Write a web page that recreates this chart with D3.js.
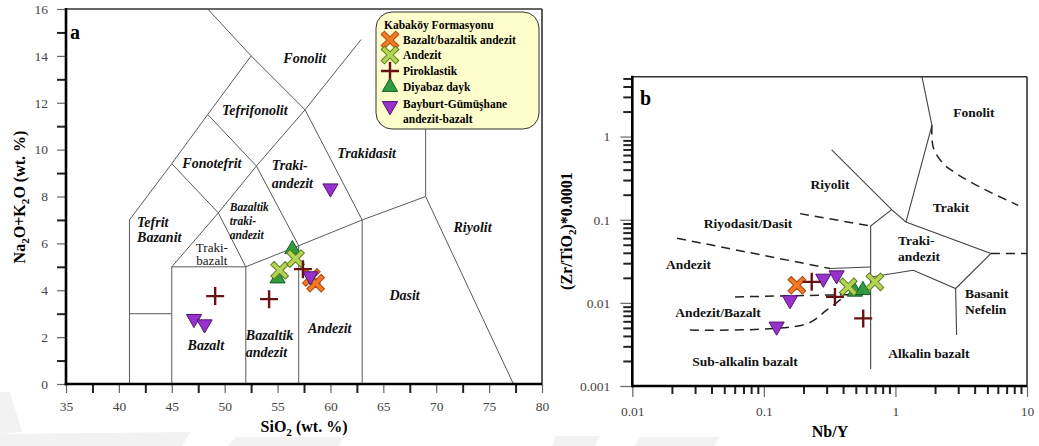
<!DOCTYPE html>
<html><head><meta charset="utf-8">
<script src="https://cdn.jsdelivr.net/npm/d3@7"></script>
<style>body{margin:0;background:#fff}svg{display:block}</style>
</head><body>
<svg id="chart" width="1039" height="446"></svg>
<script>
// ---------- Panel a: TAS (SiO2 vs Na2O+K2O) ----------
const tasBasaltAnd = [[58.2, 4.55], [58.6, 4.3]];
const tasAndesite = [[55.2, 4.85], [56.7, 5.35]];
const tasPyroclastic = [[49.1, 3.75], [54.2, 3.62], [57.4, 4.9]];
const tasDyke = [[55.0, 4.5], [56.4, 5.75]];
const tasBayburt = [[47.1, 2.78], [48.1, 2.55], [58.1, 4.6], [60.0, 8.35]];

const tasXTicks = [35, 40, 45, 50, 55, 60, 65, 70, 75, 80];
const tasYTicks = [0, 2, 4, 6, 8, 10, 12, 14, 16];

// field boundaries (SiO2, alkali)
const tasBoundaries = [
  [[41, 0], [41, 7], [45, 9.4], [48.4, 11.5], [52.5, 14], [48.4, 16]],
  [[41, 3], [45, 3]],
  [[45, 0], [45, 5], [52, 5], [52, 0]],
  [[45, 5], [49.4, 7.3], [52, 5]],
  [[45, 9.4], [49.4, 7.3], [53, 9.3], [48.4, 11.5]],
  [[53, 9.3], [57.6, 11.7], [62.9, 14.7]],
  [[52.5, 14], [57.6, 11.7], [63, 7]],
  [[52, 5], [57, 5.9], [63, 7], [69, 8], [77.3, 0]],
  [[57, 0], [57, 5.9], [53, 9.3]],
  [[63, 0], [63, 7]],
  [[69, 8], [69, 12]]
];

// field names and their anchor points (SiO2, alkali of the first line)
const tasFieldNames = ["Fonolit", "Tefrifonolit", "Fonotefrit", "Traki-|andezit", "Trakidasit",
  "Bazaltik|traki-|andezit", "Tefrit|Bazanit", "Traki-|bazalt", "Bazalt", "Bazaltik|andezit",
  "Andezit", "Dasit", "Riyolit"];
const tasFieldSiO2 = [57.57, 52.85, 48.79, 54.45, 63.42, 50.49, 41.72, 48.79, 48.22, 52.0, 59.93, 67.01, 73.43];
const tasFieldAlk = [13.91, 11.69, 9.43, 9.34, 9.86, 7.55, 6.91, 5.84, 1.66, 2.09, 2.39, 3.80, 6.70];

// ---------- Panel b: Zr/TiO2 vs Nb/Y ----------
const wfBasaltAnd = [[0.178, 0.0163]];
const wfAndesite = [[0.438, 0.0156], [0.698, 0.0179]];
const wfPyroclastic = [[0.231, 0.0179], [0.347, 0.0118], [0.569, 0.0065]];
const wfDyke = [[0.492, 0.0136], [0.566, 0.0142]];
const wfBayburt = [[0.283, 0.0196], [0.357, 0.0215], [0.158, 0.0108], [0.125, 0.0052]];

const wfXTicks = [0.01, 0.1, 1, 10];
const wfYTicks = [0.001, 0.01, 0.1, 1];

const wfSolid = [
  [[1.59, 5.25], [1.894, 1.359], [1.202, 0.0938]],
  [[0.3275, 0.694], [0.936, 0.1322], [1.202, 0.0938], [5.317, 0.0392], [2.867, 0.01489], [1.366, 0.0247], [0.648, 0.0205]],
  [[0.936, 0.1322], [0.648, 0.084], [0.648, 0.0016]],
  [[2.867, 0.01489], [2.917, 0.0041]],
  [[0.318, 0.0259], [0.648, 0.027]]
];
const wfDashed = [
  [[1.894, 1.359], [1.937, 0.746], [2.307, 0.472], [2.917, 0.3576], [4.386, 0.247], [8.575, 0.1489]],
  [[5.317, 0.0392], [10, 0.0392]],
  [[0.188, 0.1184], [0.648, 0.084]],
  [[0.0219, 0.0598], [0.318, 0.0259]],
  [[0.0603, 0.0118], [0.648, 0.0127]],
  [[0.0274, 0.0047], [0.209, 0.00555], [0.300, 0.00818], [0.413, 0.0120]]
];

const wfFieldNames = ["Fonolit", "Riyolit", "Trakit", "Riyodasit/Dasit", "Traki-|andezit", "Andezit",
  "Andezit/Bazalt", "Sub-alkalin bazalt", "Alkalin bazalt", "Basanit|Nefelin"];
const wfFieldNb = [3.95, 0.318, 2.641, 0.0757, 1.045, 0.0267, 0.0448, 0.0719, 1.797, 3.374];
const wfFieldZr = [1.947, 0.266, 0.141, 0.0905, 0.0566, 0.0291, 0.0078, 0.00196, 0.00247, 0.01297];

const legendTitle = "Kabaköy Formasyonu";
const legendLabels = ["Bazalt/bazaltik andezit", "Andezit", "Piroklastik", "Diyabaz dayk", "Bayburt-Gümüşhane|andezit-bazalt"];

// ---------- drawing ----------
const svg = d3.select("#chart");
const FONT = "'Liberation Serif','Times New Roman',serif";

// faint background print along the lower edge
const bgShapes = [
  [[0, 392], [10, 392], [22, 432], [0, 434]],
  [[0, 434], [190, 432], [182, 446], [0, 446]],
  [[236, 437], [345, 437], [338, 446], [228, 446]],
  [[556, 436], [600, 436], [595, 446], [552, 446]],
  [[640, 437], [720, 437], [714, 446], [634, 446]]
];
svg.selectAll("path.bg").data(bgShapes).join("path").attr("class", "bg")
  .attr("d", d => "M" + d.join("L") + "Z").attr("fill", "#f2f2f2");

const markerStyle = {
  xo: {fill: "#f37a22", stroke: "#b04a10"},
  xg: {fill: "#b4d553", stroke: "#5f7d22"},
  tri: {fill: "#2f9c42", stroke: "#165a26"},
  inv: {fill: "#9932cc", stroke: "#4e1470"}
};

// plus-shaped outline with half-length h and half-width w
function crossPath(h, w) {
  const p = [[-w, -h], [w, -h], [w, -w], [h, -w], [h, w], [w, w], [w, h], [-w, h], [-w, w], [-h, w], [-h, -w], [-w, -w]];
  return "M" + p.join("L") + "Z";
}

function drawMarker(g, type, cx, cy) {
  if (type === "plus") {
    g.append("path").attr("d", "M-9,0H9M0,-9V9")
      .attr("transform", `translate(${cx},${cy})`)
      .attr("stroke", "#6a1212").attr("stroke-width", 2.4).attr("fill", "none");
    return;
  }
  const st = markerStyle[type];
  let path, rot = 0;
  if (type === "xo" || type === "xg") { path = crossPath(10.2, 2.3); rot = 45; }
  else { path = d3.symbol(d3.symbolTriangle, 100)(); rot = type === "inv" ? 180 : 0; }
  g.append("path").attr("d", path)
    .attr("transform", `translate(${cx},${cy}) rotate(${rot})`)
    .attr("fill", st.fill).attr("stroke", st.stroke).attr("stroke-width", 1);
}

function subText(sel, parts, size) {
  let prevSub = false;
  parts.forEach(([t, sub]) => {
    const ts = sel.append("tspan").text(t);
    if (sub) ts.attr("font-size", size * 0.7).attr("dy", size * 0.25);
    else if (prevSub) ts.attr("dy", -size * 0.25);
    prevSub = sub;
  });
}

function frame(g, x0, x1, y0, y1) {
  g.append("line").attr("x1", x0).attr("x2", x1).attr("y1", y0).attr("y2", y0).attr("stroke", "#333").attr("stroke-width", 1.6);
  g.append("line").attr("x1", x1).attr("x2", x1).attr("y1", y0).attr("y2", y1).attr("stroke", "#333").attr("stroke-width", 1.6);
  g.append("line").attr("x1", x0).attr("x2", x0).attr("y1", y0 - 1).attr("y2", y1 + 1.3).attr("stroke", "#000").attr("stroke-width", 2.6);
  g.append("line").attr("x1", x0 - 1.3).attr("x2", x1).attr("y1", y1).attr("y2", y1).attr("stroke", "#000").attr("stroke-width", 2.6);
}

function styleAxis(g, isMajor) {
  g.select(".domain").remove();
  g.selectAll(".tick line")
    .attr("stroke", d => isMajor(d) ? "#666" : "#222")
    .attr("stroke-width", d => isMajor(d) ? 1.2 : 2);
  g.selectAll(".tick text").attr("font-family", FONT).attr("font-size", 13.5).attr("fill", "#444");
}

function fieldLabels(g, names, xs, ys, sx, sy, opts) {
  names.forEach((n, i) => {
    const lines = n.split("|");
    const o = opts[i];
    const t = g.append("text")
      .attr("font-family", FONT).attr("font-weight", o.bold === false ? "normal" : "bold")
      .attr("font-style", o.italic ? "italic" : "normal")
      .attr("font-size", o.size).attr("text-anchor", o.anchor).attr("fill", "#111");
    lines.forEach((ln, k) => {
      t.append("tspan").attr("x", sx(xs[i])).attr("y", sy(ys[i]))
        .attr("dy", (0.35 + k * o.lh) + "em").text(ln);
    });
  });
}

function plotSeries(g, data, type, sx, sy) {
  data.forEach(d => drawMarker(g, type, sx(d[0]), sy(d[1])));
}

// ===== Panel a =====
const xA = d3.scaleLinear().domain([35, 80]).range([66, 542]);
const yA = d3.scaleLinear().domain([0, 16]).range([384, 9]);
const gA = svg.append("g");

const lineA = d3.line().x(d => xA(d[0])).y(d => yA(d[1]));
gA.selectAll("path.bd").data(tasBoundaries).join("path").attr("class", "bd")
  .attr("d", lineA).attr("fill", "none").attr("stroke", "#5a5a5a").attr("stroke-width", 1);

const tasOpts = [
  {anchor: "middle", italic: true, size: 14, lh: 1.1},
  {anchor: "middle", italic: true, size: 14, lh: 1.1},
  {anchor: "middle", italic: true, size: 14, lh: 1.1},
  {anchor: "start", italic: true, size: 14, lh: 1.3},
  {anchor: "middle", italic: true, size: 14, lh: 1.1},
  {anchor: "start", italic: true, size: 11.5, lh: 1.2},
  {anchor: "start", italic: true, size: 14, lh: 1.1},
  {anchor: "middle", italic: false, bold: false, size: 13, lh: 1.0},
  {anchor: "middle", italic: true, size: 14, lh: 1.1},
  {anchor: "start", italic: true, size: 14, lh: 1.25},
  {anchor: "middle", italic: true, size: 14, lh: 1.1},
  {anchor: "middle", italic: true, size: 14, lh: 1.1},
  {anchor: "middle", italic: true, size: 14, lh: 1.1}
];
fieldLabels(gA, tasFieldNames, tasFieldSiO2, tasFieldAlk, xA, yA, tasOpts);

// axes
const axXA = gA.append("g").attr("transform", "translate(0,384)")
  .call(d3.axisBottom(xA).tickValues(d3.range(35, 80.1, 2.5)).tickSize(9).tickPadding(8)
    .tickFormat(d => tasXTicks.includes(d) ? d : ""));
styleAxis(axXA, d => tasXTicks.includes(d));
const axYA = gA.append("g").attr("transform", "translate(66,0)")
  .call(d3.axisLeft(yA).tickValues(d3.range(0, 16.1, 1)).tickSize(9).tickPadding(9)
    .tickFormat(d => tasYTicks.includes(d) ? d : ""));
styleAxis(axYA, d => tasYTicks.includes(d));
frame(gA, 66, 542, 9, 384);

// axis titles
subText(gA.append("text").attr("x", 304).attr("y", 432).attr("text-anchor", "middle")
  .attr("font-family", FONT).attr("font-weight", "bold").attr("font-size", 16),
  [["SiO", false], ["2", true], [" (wt. %)", false]], 16);
subText(gA.append("text").attr("transform", "translate(25,197) rotate(-90)").attr("text-anchor", "middle")
  .attr("font-family", FONT).attr("font-weight", "bold").attr("font-size", 16),
  [["Na", false], ["2", true], ["O+K", false], ["2", true], ["O (wt. %)", false]], 16);
gA.append("text").attr("x", 70).attr("y", 39).attr("font-family", FONT).attr("font-weight", "bold")
  .attr("font-size", 20).text("a");

// legend
const lg = gA.append("g");
lg.append("rect").attr("x", 376).attr("y", 12).attr("width", 163).attr("height", 117).attr("rx", 16)
  .attr("fill", "#fefdcc").attr("stroke", "#333").attr("stroke-width", 1);
lg.append("text").attr("x", 384).attr("y", 29).attr("font-family", FONT).attr("font-weight", "bold")
  .attr("font-size", 11.5).text(legendTitle);
const legendTypes = ["xo", "xg", "plus", "tri", "inv"];
const legendY = [40, 55, 71, 87, 106];
legendLabels.forEach((lab, i) => {
  drawMarker(lg, legendTypes[i], 390, legendY[i]);
  const t = lg.append("text").attr("font-family", FONT).attr("font-weight", "bold").attr("font-size", 11.5);
  lab.split("|").forEach((ln, k) => {
    t.append("tspan").attr("x", 403).attr("y", legendY[i] + 4 - (i === 4 ? 2 : 0) + k * 15).text(ln);
  });
});

plotSeries(gA, tasBasaltAnd, "xo", xA, yA);
plotSeries(gA, tasBayburt, "inv", xA, yA);
plotSeries(gA, tasDyke, "tri", xA, yA);
plotSeries(gA, tasAndesite, "xg", xA, yA);
plotSeries(gA, tasPyroclastic, "plus", xA, yA);

// ===== Panel b =====
const xB = d3.scaleLog().domain([0.01, 10]).range([632.3, 1027]);
const yB = d3.scaleLog().domain([0.001, 5.25]).range([386, 76.7]);
const gB = svg.append("g");
const lineB = d3.line().x(d => xB(d[0])).y(d => yB(d[1]));
const curveB = d3.line().x(d => xB(d[0])).y(d => yB(d[1])).curve(d3.curveCatmullRom);

gB.selectAll("path.sl").data(wfSolid).join("path").attr("class", "sl")
  .attr("d", lineB).attr("fill", "none").attr("stroke", "#444").attr("stroke-width", 1.1);
gB.selectAll("path.dl").data(wfDashed).join("path").attr("class", "dl")
  .attr("d", curveB).attr("fill", "none").attr("stroke", "#222").attr("stroke-width", 1.5)
  .attr("stroke-dasharray", "9,6");

const wfOpts = wfFieldNames.map(n => ({anchor: n.includes("|") ? "start" : "middle", italic: false, size: 13.5, lh: 1.2}));
fieldLabels(gB, wfFieldNames, wfFieldNb, wfFieldZr, xB, yB, wfOpts);

const minorDecades = (lo, hi) => {
  const v = [];
  for (let e = lo; e < hi; e++) for (let m = 1; m <= 9; m++) v.push(+(m * Math.pow(10, e)).toPrecision(3));
  return v;
};
const xBTicks = minorDecades(-2, 1).concat([10]);
const yBTicks = minorDecades(-3, 0).concat([1, 2, 3, 4, 5]);
const isDec = d => Math.abs(Math.log10(d) - Math.round(Math.log10(d))) < 1e-6;

const axXB = gB.append("g").attr("transform", "translate(0,386)")
  .call(d3.axisBottom(xB).tickValues(xBTicks).tickSize(9).tickPadding(11)
    .tickFormat(d => wfXTicks.includes(d) ? String(d) : ""));
styleAxis(axXB, isDec);
axXB.selectAll(".tick line").attr("y2", d => isDec(d) ? 11 : 8);
const axYB = gB.append("g").attr("transform", "translate(632.3,0)")
  .call(d3.axisLeft(yB).tickValues(yBTicks).tickSize(12).tickPadding(10)
    .tickFormat(d => wfYTicks.includes(d) ? String(d) : ""));
styleAxis(axYB, isDec);
axYB.selectAll(".tick line").attr("x2", d => isDec(d) ? -12 : -9);
frame(gB, 632.3, 1027, 76.7, 386);

gB.append("text").attr("x", 830).attr("y", 437).attr("text-anchor", "middle")
  .attr("font-family", FONT).attr("font-weight", "bold").attr("font-size", 16).text("Nb/Y");
subText(gB.append("text").attr("transform", "translate(572,231) rotate(-90)").attr("text-anchor", "middle")
  .attr("font-family", FONT).attr("font-weight", "bold").attr("font-size", 16),
  [["(Zr/TiO", false], ["2", true], [")*0.0001", false]], 16);
gB.append("text").attr("x", 640).attr("y", 105).attr("font-family", FONT).attr("font-weight", "bold")
  .attr("font-size", 20).text("b");

plotSeries(gB, wfBayburt, "inv", xB, yB);
plotSeries(gB, wfBasaltAnd, "xo", xB, yB);
plotSeries(gB, wfDyke, "tri", xB, yB);
plotSeries(gB, wfAndesite, "xg", xB, yB);
plotSeries(gB, wfPyroclastic, "plus", xB, yB);
</script>
</body></html>
